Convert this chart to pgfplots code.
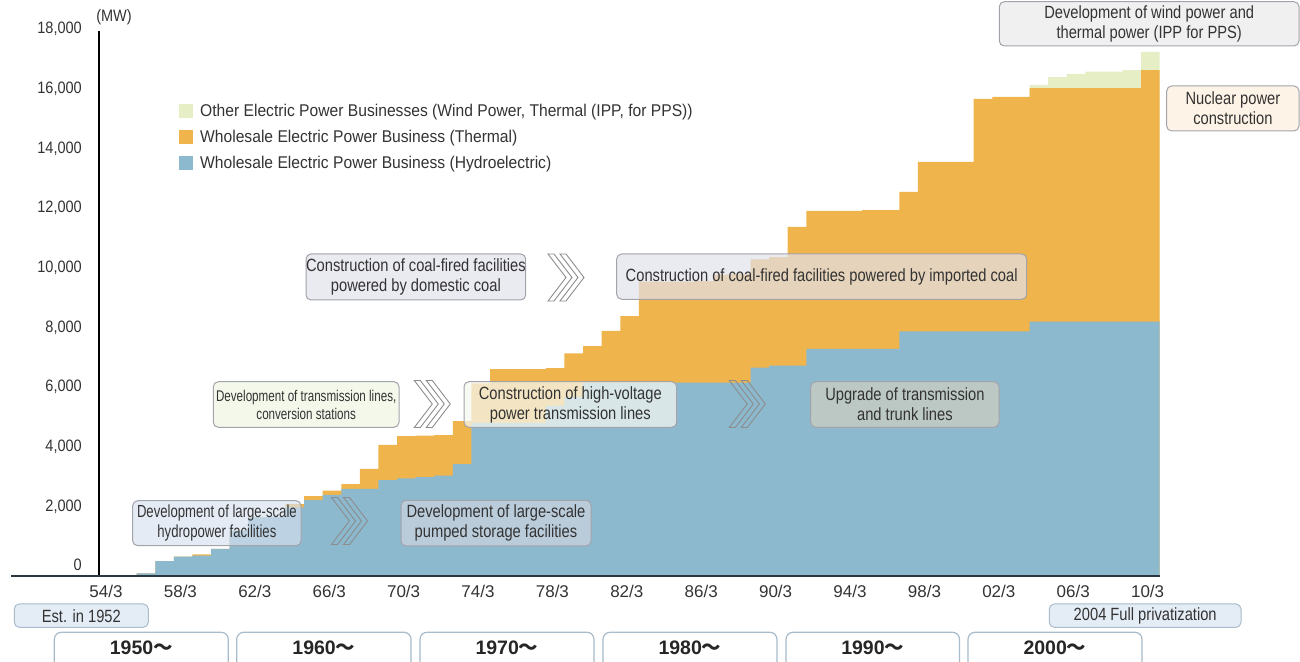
\documentclass[border=0pt]{standalone}
\usepackage{fontspec}
\usepackage{pgfplots}
\pgfplotsset{compat=1.18}
\setmainfont{Liberation Sans}
\newfontfamily\condfont{Liberation Sans}[FakeStretch=0.83]
\newfontfamily\condfontb{Liberation Sans}[FakeStretch=0.75]
\newfontfamily\tickfont{Liberation Sans}[FakeStretch=0.88]
\newfontfamily\legfont{Liberation Sans}[FakeStretch=0.92]
\newfontfamily\cjk{Noto Sans CJK JP}
\definecolor{hydro}{HTML}{8DB9CF}
\definecolor{thermal}{HTML}{EFB44C}
\definecolor{other}{HTML}{E5EEC5}
\definecolor{txt}{HTML}{333333}
\definecolor{bord}{HTML}{A3A3AB}
\definecolor{decb}{HTML}{A8BCCB}
\tikzset{
  bx/.style={rounded corners=5bp, draw=bord, line width=1bp},
  chevst/.style={draw=gray!90, line width=0.9bp},
  bt/.style={align=center, text=txt, inner sep=0pt, font=\condfont\fontsize{17.7bp}{20bp}\selectfont},
}
\newcommand\chev[2]{%
  \draw[chevst] (#1,#2) -- ++(6,0) -- ++(18,23.5) -- ++(-18,23.5) -- ++(-6,0) -- ++(18,-23.5) -- cycle;
  \draw[chevst,xshift=12bp] (#1,#2) -- ++(6,0) -- ++(18,23.5) -- ++(-18,23.5) -- ++(-6,0) -- ++(18,-23.5) -- cycle;}
\begin{document}
\begin{tikzpicture}
\useasboundingbox (0,0) rectangle (1300bp,662bp);
\begin{axis}[
  at={(99bp,86bp)}, anchor=south west, scale only axis,
  width=1060.7bp, height=545bp,
  xmin=1953.624, xmax=2010.65, ymin=0, ymax=18258,
  axis lines=left, axis line style={-},
  x axis line style={draw=none},
  y axis line style={black, line width=1.2bp},
  major tick length=0pt,
  scaled y ticks=false,
  xtick={1954,1958,1962,1966,1970,1974,1978,1982,1986,1990,1994,1998,2002,2006,2010},
  xticklabels={54/3,58/3,62/3,66/3,70/3,74/3,78/3,82/3,86/3,90/3,94/3,98/3,02/3,06/3,10/3},
  ytick={0,2000,4000,6000,8000,10000,12000,14000,16000,18000},
  /pgf/number format/1000 sep={,},
  /pgf/number format/assume math mode=true,
  yticklabel style={font=\tickfont\fontsize{16.5bp}{18bp}\selectfont, text=txt, anchor=base east, inner sep=0pt, xshift=-17bp, yshift=5bp},
  xticklabel style={font=\fontsize{17bp}{19bp}\selectfont, text=txt, anchor=base, inner sep=0pt, yshift=-22bp},
  legend style={at={(0.0754,0.866)}, anchor=north west, draw=none, fill=none, inner sep=0pt,
    row sep=12bp, column sep=7bp, font=\legfont\fontsize{17bp}{19bp}\selectfont, text=txt, nodes={inner sep=0pt}},
  legend cell align=left,
  legend image code/.code={\fill[#1] (0bp,-7bp) rectangle (14bp,7bp);},
]
% Other electric power businesses (grand total top)
\addplot[fill=other, draw=none, const plot mark left] coordinates {
(2003.65,0) (2003.65,16450) (2004.65,16715) (2005.65,16820) (2006.65,16895) (2007.65,16895)
(2008.65,16950) (2009.65,17560) (2010.65,17560) (2010.65,0)};
\addlegendentry{Other Electric Power Businesses (Wind Power, Thermal (IPP, for PPS))}
% Wholesale thermal (top of hydro+thermal)
\addplot[fill=thermal, draw=none, const plot mark left] coordinates {
(1955.65,0) (1955.65,90) (1956.65,500) (1957.65,650) (1958.65,725) (1959.65,905)
(1960.65,1520) (1961.65,1965) (1962.65,1975) (1963.65,2410) (1964.65,2680)
(1965.65,2860) (1966.65,3080) (1967.65,3585) (1968.65,4390) (1969.65,4690)
(1970.65,4700) (1971.65,4720) (1972.65,5190) (1973.65,6450) (1974.65,6930)
(1975.65,6930) (1976.65,6930) (1977.65,6965) (1978.65,7460) (1979.65,7705)
(1980.65,8210) (1981.65,8710) (1982.65,9860) (1983.65,9860) (1984.65,9860)
(1985.65,9880) (1986.65,10100) (1987.65,10130) (1988.65,10610) (1989.65,10680)
(1990.65,11700) (1991.65,12230) (1992.65,12230) (1993.65,12230) (1994.65,12260)
(1995.65,12260) (1996.65,12865) (1997.65,13870) (1998.65,13870) (1999.65,13870)
(2000.65,15980) (2001.65,16050) (2002.65,16050) (2003.65,16340) (2004.65,16340)
(2005.65,16340) (2006.65,16340) (2007.65,16340) (2008.65,16340) (2009.65,16950)
(2010.65,16950) (2010.65,0)};
\addlegendentry{Wholesale Electric Power Business (Thermal)}
% Wholesale hydroelectric
\addplot[fill=hydro, draw=none, const plot mark left] coordinates {
(1955.65,0) (1955.65,90) (1956.65,500) (1957.65,650) (1958.65,680) (1959.65,905)
(1960.65,1520) (1961.65,1965) (1962.65,1975) (1963.65,2300) (1964.65,2545)
(1965.65,2715) (1966.65,2915) (1967.65,2915) (1968.65,3215) (1969.65,3270)
(1970.65,3315) (1971.65,3360) (1972.65,3750) (1973.65,5130) (1974.65,5130)
(1975.65,5130) (1976.65,5130) (1977.65,5700) (1978.65,6000) (1979.65,6475)
(1980.65,6475) (1981.65,6475) (1982.65,6475) (1983.65,6475) (1984.65,6475)
(1985.65,6475) (1986.65,6475) (1987.65,6475) (1988.65,6980) (1989.65,7045)
(1990.65,7045) (1991.65,7605) (1992.65,7605) (1993.65,7605) (1994.65,7605)
(1995.65,7605) (1996.65,8195) (1997.65,8195) (1998.65,8195) (1999.65,8195)
(2000.65,8195) (2001.65,8195) (2002.65,8195) (2003.65,8520) (2004.65,8520)
(2005.65,8520) (2006.65,8520) (2007.65,8520) (2008.65,8520) (2009.65,8520)
(2010.65,8520) (2010.65,0)};
\addlegendentry{Wholesale Electric Power Business (Hydroelectric)}
\end{axis}
\begin{scope}[x=1bp,y=-1bp,shift={(0,662bp)}]
% baseline
\draw[color=black!70!hydro, line width=2.2bp] (11,576) -- (1160,576);
% unit
\node[text=txt, font=\tickfont\fontsize{16.5bp}{18bp}\selectfont, inner sep=0pt] at (114,17) {(MW)};
% boxes
\draw[bx, fill={rgb,255:red,215;green,225;blue,240}, fill opacity=0.65] (132.7,500.7) rectangle (301,545.7);
\node[bt, font=\condfontb\fontsize{17.5bp}{20bp}\selectfont] at (216.9,523.2) {Development of large-scale\\hydropower facilities};
\draw[bx, fill={rgb,255:red,243;green,248;blue,235}] (213.3,381.7) rectangle (399,427.3);
\node[bt, font=\condfontb\fontsize{15.5bp}{18bp}\selectfont] at (306.2,404.5) {Development of transmission lines,\\conversion stations};
\draw[bx, fill={rgb,255:red,245;green,248;blue,240}, fill opacity=0.73] (464,381.7) rectangle (676.7,427.3);
\node[bt] at (570.3,404.5) {Construction of high-voltage\\power transmission lines};
\draw[bx, fill={rgb,255:red,216;green,216;blue,226}, fill opacity=0.6] (401,500.3) rectangle (591,546);
\node[bt] at (496,523.2) {Development of large-scale\\pumped storage facilities};
\draw[bx, fill={rgb,255:red,225;green,225;blue,235}, fill opacity=0.7] (306,254) rectangle (525.7,300);
\node[bt] at (415.9,277) {Construction of coal-fired facilities\\powered by domestic coal};
\draw[bx, fill={rgb,255:red,225;green,225;blue,235}, fill opacity=0.7] (616.7,254) rectangle (1026.7,299.3);
\node[bt] at (821.7,277) {Construction of coal-fired facilities powered by imported coal};
\draw[bx, fill={rgb,255:red,235;green,215;blue,185}, fill opacity=0.5] (810.7,381.7) rectangle (999,427.3);
\node[bt] at (904.9,404.5) {Upgrade of transmission\\and trunk lines};
\draw[bx, fill={rgb,255:red,240;green,240;blue,240}] (999.3,1.7) rectangle (1299,46);
\node[bt] at (1149.2,23.9) {Development of wind power and\\thermal power (IPP for PPS)};
\draw[bx, fill={rgb,255:red,253;green,243;blue,230}] (1166.7,86) rectangle (1299,131);
\node[bt] at (1232.9,108.5) {Nuclear power\\construction};
\draw[bx, draw=decb, fill={rgb,255:red,228;green,236;blue,246}] (14.3,604) rectangle (148.3,627.3);
\node[bt] at (81.3,615.7) {Est. in 1952};
\draw[bx, draw=decb, fill={rgb,255:red,228;green,236;blue,246}] (1049.3,604) rectangle (1241,627.3);
\node[bt] at (1145.2,615.7) {2004 Full privatization};
% chevrons
\chev{331.5}{497.5}
\chev{414.3}{380.5}
\chev{548}{254}
\chev{729.3}{380.5}
% decades
\foreach \xa/\xb/\lab in {54.3/228.3/1950, 236.7/411/1960, 420/594/1970, 603/777/1980, 786/959.5/1990, 968/1142/2000}{
  \draw[rounded corners=7bp, draw=decb, line width=1.2bp, fill=white] (\xa,632.3) rectangle (\xb,680);
  \node[text=black!85, inner sep=0pt, font=\bfseries\fontsize{19.5bp}{22bp}\selectfont] at ({(\xa+\xb)/2},648) {\lab{\cjk ～}};
}
\end{scope}
\end{tikzpicture}
\end{document}
